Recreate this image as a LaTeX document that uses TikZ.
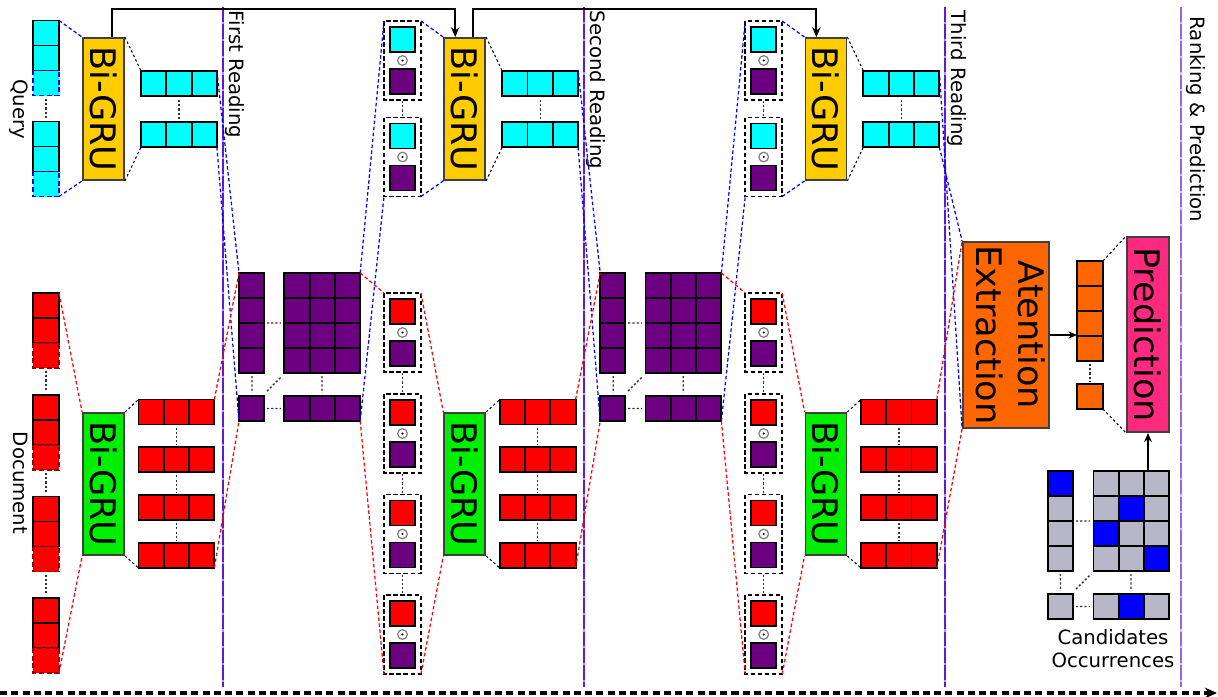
\documentclass[tikz,border=0pt]{standalone}
\usepackage{graphicx}
\usepackage{fontspec}
\setmainfont{DejaVu Sans}
\usetikzlibrary{arrows.meta}

\definecolor{qcyan}{RGB}{0,255,255}
\definecolor{dred}{RGB}{255,0,0}
\definecolor{attpurple}{RGB}{108,0,128}
\definecolor{gruyellow}{RGB}{255,204,0}
\definecolor{grugreen}{RGB}{0,238,0}
\definecolor{extorange}{RGB}{255,102,0}
\definecolor{predpink}{RGB}{255,42,127}
\definecolor{candgray}{RGB}{183,183,200}
\definecolor{candblue}{RGB}{0,0,255}
\definecolor{sepviolet}{RGB}{95,25,215}
\definecolor{seplight}{RGB}{155,100,235}

\newcommand{\bigfont}{\fontsize{10}{12}\selectfont}
\newcommand{\lblfont}{\fontsize{5.6}{6.6}\selectfont}

\tikzset{
    cellbox/.style={draw=black, line width=0.55pt},
    gru/.style={draw=black!75, line width=0.5pt, inner sep=0pt, font=\bigfont,
        minimum width=0.41cm, minimum height=1.42cm},
    vdots/.style={black!80, line width=0.4pt, dash pattern=on 0.6pt off 0.6pt},
    linkdots/.style={black, line width=0.3pt, dash pattern=on 0.7pt off 0.7pt},
    qlink/.style={blue, line width=0.35pt, dash pattern=on 1pt off 0.7pt},
    dlink/.style={red, line width=0.35pt, dash pattern=on 1pt off 0.7pt},
    obox/.style={draw=black, line width=0.45pt, dash pattern=on 1.3pt off 0.7pt},
    fwd/.style={black, line width=0.55pt, -{Stealth[length=2.8pt, width=2.4pt]}},
    lbl/.style={font=\lblfont, inner sep=0pt}
}

\begin{document}
\begin{tikzpicture}[x=0.01cm, y=-0.01cm]
    \useasboundingbox (0,0) rectangle (1218,697);

    % Reading separators
    \foreach \x/\c in {223/sepviolet,584/sepviolet,945/sepviolet,1181/seplight}{
        \draw[draw=\c!45, line width=0.65pt] (\x,7) -- (\x,687);
        \draw[draw=\c, line width=0.65pt, dash pattern=on 4.2pt off 0.6pt] (\x,7) -- (\x,687);
    }
    \node[lbl, rotate=-90, anchor=base west] (read1) at (229.5,10) {First Reading};
    \node[lbl, rotate=-90, anchor=base west] (read2) at (590.5,10) {Second Reading};
    \node[lbl, rotate=-90, anchor=base west] (read3) at (951.5,10) {Third Reading};
    \node[lbl, rotate=-90, anchor=base west] (rank) at (1190,16) {Ranking \& Prediction};

    % Query and document inputs
    \foreach \y in {20.5,121.5}{
        \filldraw[cellbox, fill=qcyan] (33,\y) rectangle +(26,25);
        \filldraw[cellbox, fill=qcyan] (33,\y+25) rectangle +(26,25);
        \filldraw[fill=qcyan, draw=blue, line width=0.5pt, dash pattern=on 1.4pt off 0.8pt] (33,\y+50) rectangle +(26,25);
    }
    \draw[vdots] (46,99) -- (46,119);
    \foreach \y in {293,395,496.5,598}{
        \filldraw[cellbox, fill=dred] (33,\y) rectangle +(26,25);
        \filldraw[cellbox, fill=dred] (33,\y+25) rectangle +(26,25);
        \filldraw[fill=dred, draw=red!60!black, line width=0.5pt, dash pattern=on 1.4pt off 0.8pt] (33,\y+50) rectangle +(26,25);
    }
    \foreach \y in {371,473,574.5} \draw[vdots] (46,\y) -- (46,\y+20);
    \coordinate (qin-t) at (59,20.5); \coordinate (qin-b) at (59,196.5);
    \coordinate (din-t) at (59,293); \coordinate (din-b) at (59,673);
    \node[lbl, rotate=-90, anchor=base] (qlabel) at (13,109) {Query};
    \node[lbl, rotate=-90, anchor=base] (dlabel) at (13,483) {Document};

    % Bi-GRU encoders and their states
    \foreach \k in {0,1,2}{
        \begin{scope}[xshift=\k*3.61cm]
            \node[gru, fill=gruyellow] (gq\k) at (103.5,109) {\rotatebox{-90}{Bi-GRU}};
            \node[gru, fill=grugreen] (gd\k) at (103.5,484) {\rotatebox{-90}{Bi-GRU}};
            \foreach \y in {71,122}
                \foreach \i in {0,1,2}
                    \filldraw[cellbox, fill=qcyan] (141+25.3*\i,\y) rectangle +(25.3,25);
            \draw[vdots] (179,100) -- (179,119);
            \foreach \y in {399.5,447.3,495.1,542.9}
                \foreach \i in {0,1,2}
                    \filldraw[cellbox, fill=dred] (138.5+25.3*\i,\y) rectangle +(25.3,25);
            \foreach \y in {427.5,475.3,523.1} \draw[vdots] (176.5,\y) -- (176.5,\y+17);
            \coordinate (qol-t\k) at (141,71); \coordinate (qol-b\k) at (141,147);
            \coordinate (qor-t\k) at (216.9,71); \coordinate (qor-b\k) at (216.9,147);
            \coordinate (dol-t\k) at (138.5,399.5); \coordinate (dol-b\k) at (138.5,567.9);
            \coordinate (dor-t\k) at (214.4,399.5); \coordinate (dor-b\k) at (214.4,567.9);
        \end{scope}
    }

    % Attention matrices and gated states
    \foreach \k in {0,1}{
        \begin{scope}[xshift=\k*3.61cm]
            \foreach \y in {273,298,323,348,396}{
                \filldraw[cellbox, fill=attpurple] (239,\y) rectangle +(25,25);
                \foreach \i in {0,1,2}
                    \filldraw[cellbox, fill=attpurple] (284.3+25.3*\i,\y) rectangle +(25.3,25);
            }
            \draw[vdots] (267,323) -- (281,323) (252,376) -- (252,393)
                (267,391) -- (281,377) (322,376) -- (322,393) (267,408.5) -- (281,408.5);
            \coordinate (ml-t\k) at (239,273); \coordinate (ml-b\k) at (239,421);
            \coordinate (mr-t\k) at (360.2,273); \coordinate (mr-b\k) at (360.2,421);
            \foreach \y in {21,117.5}{
                \draw[obox] (384,\y) rectangle +(37,79);
                \filldraw[cellbox, fill=qcyan] (390,\y+6) rectangle +(25,25);
                \filldraw[cellbox, fill=attpurple] (390,\y+48) rectangle +(25,25);
                \draw[gray, line width=0.35pt] (402.5,\y+39.5) circle (0.048cm);
                \fill (402.5,\y+39.5) circle (0.011cm);
            }
            \draw[vdots] (402.5,101) -- (402.5,116);
            \foreach \y in {293,394,494.5,595}{
                \draw[obox] (384,\y) rectangle +(37,79);
                \filldraw[cellbox, fill=dred] (390,\y+6) rectangle +(25,25);
                \filldraw[cellbox, fill=attpurple] (390,\y+48) rectangle +(25,25);
                \draw[gray, line width=0.35pt] (402.5,\y+39.5) circle (0.048cm);
                \fill (402.5,\y+39.5) circle (0.011cm);
            }
            \foreach \y in {373,474,574.5} \draw[vdots] (402.5,\y) -- (402.5,\y+19);
            \coordinate (qbl-t\k) at (384,21); \coordinate (qbl-b\k) at (384,196.5);
            \coordinate (qbr-t\k) at (421,21); \coordinate (qbr-b\k) at (421,196.5);
            \coordinate (dbl-t\k) at (384,293); \coordinate (dbl-b\k) at (384,674);
            \coordinate (dbr-t\k) at (421,293); \coordinate (dbr-b\k) at (421,674);
        \end{scope}
    }

    % Attention extraction and prediction
    \node[draw=black!75, line width=0.5pt, fill=extorange, inner sep=0pt, font=\bigfont,
        minimum width=0.86cm, minimum height=1.86cm] (att) at (1006,335)
        {\rotatebox{-90}{\begin{tabular}{@{}c@{}}Atention\\Extraction\end{tabular}}};
    \node[draw=black!75, line width=0.5pt, fill=predpink, inner sep=0pt, font=\bigfont,
        minimum width=0.42cm, minimum height=1.95cm] (pred) at (1148,334.5) {\rotatebox{-90}{Prediction}};
    \foreach \y in {261,286,311,336,384}
        \filldraw[cellbox, fill=extorange] (1077,\y) rectangle +(26,25);
    \draw[vdots] (1090,364) -- (1090,381);
    \coordinate (oc-in) at (1077,335);
    \coordinate (oc-t) at (1103,261); \coordinate (oc-b) at (1103,409);
    \draw[black, line width=0.35pt, -{Stealth[length=2.4pt, width=2pt]}] (att.east) -- (oc-in);
    \draw[linkdots] (oc-t) -- (pred.north west) (oc-b) -- (pred.south west);

    % Candidates occurrences
    \foreach \y in {471,496,521,546,594}{
        \filldraw[cellbox, fill=candgray] (1048,\y) rectangle +(25,25);
        \foreach \i in {0,1,2}
            \filldraw[cellbox, fill=candgray] (1093.5+25.3*\i,\y) rectangle +(25.3,25);
    }
    \filldraw[cellbox, fill=candblue] (1048,471) rectangle +(25,25);
    \foreach \x/\y in {1118.8/496,1093.5/521,1144.1/546,1118.8/594}
        \filldraw[cellbox, fill=candblue] (\x,\y) rectangle +(25.3,25);
    \draw[vdots] (1076,521) -- (1090,521) (1060.5,574) -- (1060.5,591)
        (1076,589) -- (1091,574) (1131,574) -- (1131,591) (1076,606.5) -- (1090,606.5);
    \coordinate (cand-top) at (1148,471);
    \draw[black, line width=0.45pt, -{Stealth[length=2.6pt, width=2.2pt]}] (cand-top) -- (pred.south);
    \node[lbl, align=center] (candlbl) at (1113,649) {Candidates\\Occurrences};

    % Flow lines
    \draw[qlink] (qin-t) -- (gq0.north west) (qin-b) -- (gq0.south west);
    \draw[dlink] (din-t) -- (gd0.north west) (din-b) -- (gd0.south west);
    \foreach \k in {0,1,2}
        \draw[linkdots] (gq\k.north east) -- (qol-t\k) (gq\k.south east) -- (qol-b\k)
            (gd\k.north east) -- (dol-t\k) (gd\k.south east) -- (dol-b\k);
    \foreach \k [evaluate=\k as \n using int(\k+1)] in {0,1}{
        \draw[qlink] (qor-t\k) -- (ml-t\k) (qor-b\k) -- (ml-b\k)
            (mr-t\k) -- (qbl-t\k) (mr-b\k) -- (qbl-b\k)
            (qbr-t\k) -- (gq\n.north west) (qbr-b\k) -- (gq\n.south west);
        \draw[dlink] (dor-t\k) -- (ml-t\k) (dor-b\k) -- (ml-b\k)
            (mr-t\k) -- (dbl-t\k) (mr-b\k) -- (dbl-b\k)
            (dbr-t\k) -- (gd\n.north west) (dbr-b\k) -- (gd\n.south west);
        % skip connection over the query encoders
        \coordinate (fo\k) at ([xshift=0.085cm]gq\k.north);
        \coordinate (fi\n) at ([xshift=-0.095cm]gq\n.north);
        \draw[fwd] (fo\k) -- (fo\k |- 0,9) -| (fi\n);
    }
    \draw[qlink] (qor-t2) -- (att.south west) (qor-b2) -- (att.north west);
    \draw[dlink] (dor-t2) -- (att.north west) (dor-b2) -- (att.south west);

    % Time line
    \coordinate (tl-s) at (0,693); \coordinate (tl-e) at (1217,693);
    \draw[black, line width=0.9pt, dash pattern=on 2pt off 1.2pt,
        -{Stealth[length=3.4pt, width=3pt]}] (tl-s) -- (tl-e);
\end{tikzpicture}
\end{document}
